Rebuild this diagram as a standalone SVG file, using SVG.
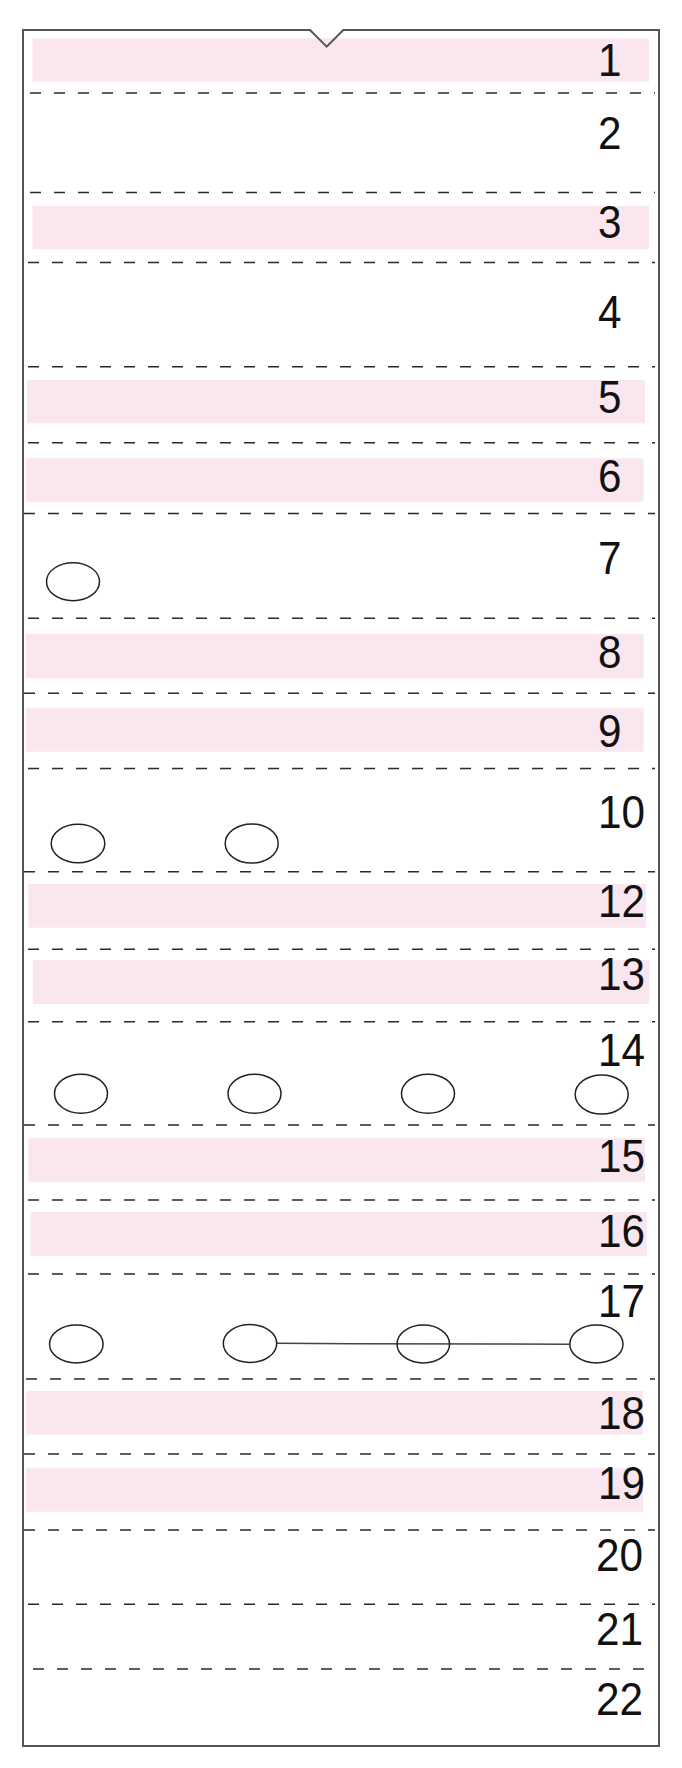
<svg xmlns="http://www.w3.org/2000/svg" width="682" height="1768" viewBox="0 0 682 1768">
<style>
.band{fill:#fae6ee}
.dash{stroke:#2a2a2a;stroke-width:1.5;stroke-dasharray:11 13;fill:none}
.num{font-family:"Liberation Sans",Arial,sans-serif;font-size:46px;fill:#111}
.node{fill:none;stroke:#222;stroke-width:1.5}
.frame{fill:none;stroke:#555;stroke-width:2}
</style>
<rect x="0" y="0" width="682" height="1768" fill="#fff"/>
<g id="bands">
<rect class="band" x="32.4" y="38.3" width="616.6" height="43.4"/>
<rect class="band" x="32.4" y="206" width="616.6" height="43.3"/>
<rect class="band" x="27" y="380" width="618" height="43.3"/>
<rect class="band" x="26" y="458.3" width="617.6" height="43.4"/>
<rect class="band" x="26" y="634" width="617.6" height="44.3"/>
<rect class="band" x="26" y="708.3" width="617.6" height="43.4"/>
<rect class="band" x="28.4" y="884" width="617.6" height="43.7"/>
<rect class="band" x="32.8" y="960" width="616.5" height="44"/>
<rect class="band" x="28.4" y="1138.3" width="616.6" height="43.4"/>
<rect class="band" x="30.6" y="1212" width="616.4" height="44"/>
<rect class="band" x="26" y="1391" width="617" height="43.5"/>
<rect class="band" x="26" y="1468.3" width="617" height="43.4"/>
</g>
<g id="frame">
<path class="frame" d="M23,30 H310 L326.7,46.7 L343.3,30 H659 V1746 H23 Z"/>
</g>
<g id="dividers">
<line class="dash" x1="30" y1="93" x2="655" y2="93"/>
<line class="dash" x1="30" y1="192.5" x2="655" y2="192.5"/>
<line class="dash" x1="28" y1="262.5" x2="655" y2="262.5"/>
<line class="dash" x1="28" y1="366.7" x2="655" y2="366.7"/>
<line class="dash" x1="28" y1="442.7" x2="655" y2="442.7"/>
<line class="dash" x1="24" y1="513.5" x2="655" y2="513.5"/>
<line class="dash" x1="28" y1="618.3" x2="655" y2="618.3"/>
<line class="dash" x1="24" y1="693.3" x2="655" y2="693.3"/>
<line class="dash" x1="28" y1="768.5" x2="655" y2="768.5"/>
<line class="dash" x1="24" y1="871.7" x2="655" y2="871.7"/>
<line class="dash" x1="28" y1="949.3" x2="655" y2="949.3"/>
<line class="dash" x1="28" y1="1021.7" x2="655" y2="1021.7"/>
<line class="dash" x1="24" y1="1125" x2="655" y2="1125"/>
<line class="dash" x1="28" y1="1200" x2="655" y2="1200"/>
<line class="dash" x1="28" y1="1274" x2="655" y2="1274"/>
<line class="dash" x1="26" y1="1379" x2="655" y2="1379"/>
<line class="dash" x1="24" y1="1454" x2="655" y2="1454"/>
<line class="dash" x1="24" y1="1530" x2="655" y2="1530"/>
<line class="dash" x1="28" y1="1604.3" x2="655" y2="1604.3"/>
<line class="dash" x1="33" y1="1669" x2="655" y2="1669"/>
</g>
<g id="labels">
<text class="num" x="598" y="76" textLength="23.5" lengthAdjust="spacingAndGlyphs">1</text>
<text class="num" x="598" y="149.3" textLength="23.5" lengthAdjust="spacingAndGlyphs">2</text>
<text class="num" x="598" y="238.3" textLength="23.5" lengthAdjust="spacingAndGlyphs">3</text>
<text class="num" x="598" y="328.3" textLength="23.5" lengthAdjust="spacingAndGlyphs">4</text>
<text class="num" x="598" y="413.3" textLength="23.5" lengthAdjust="spacingAndGlyphs">5</text>
<text class="num" x="598" y="491.7" textLength="23.5" lengthAdjust="spacingAndGlyphs">6</text>
<text class="num" x="598" y="574" textLength="23.5" lengthAdjust="spacingAndGlyphs">7</text>
<text class="num" x="598" y="668.3" textLength="23.5" lengthAdjust="spacingAndGlyphs">8</text>
<text class="num" x="598" y="747.3" textLength="23.5" lengthAdjust="spacingAndGlyphs">9</text>
<text class="num" x="598" y="828.3" textLength="47" lengthAdjust="spacingAndGlyphs">10</text>
<text class="num" x="598" y="916.7" textLength="47" lengthAdjust="spacingAndGlyphs">12</text>
<text class="num" x="598" y="990" textLength="47" lengthAdjust="spacingAndGlyphs">13</text>
<text class="num" x="598" y="1066" textLength="47" lengthAdjust="spacingAndGlyphs">14</text>
<text class="num" x="598" y="1171.7" textLength="47" lengthAdjust="spacingAndGlyphs">15</text>
<text class="num" x="598" y="1246.7" textLength="47" lengthAdjust="spacingAndGlyphs">16</text>
<text class="num" x="598" y="1316.7" textLength="47" lengthAdjust="spacingAndGlyphs">17</text>
<text class="num" x="598" y="1429" textLength="47" lengthAdjust="spacingAndGlyphs">18</text>
<text class="num" x="598" y="1499.3" textLength="47" lengthAdjust="spacingAndGlyphs">19</text>
<text class="num" x="596" y="1570.7" textLength="47" lengthAdjust="spacingAndGlyphs">20</text>
<text class="num" x="596" y="1645" textLength="47" lengthAdjust="spacingAndGlyphs">21</text>
<text class="num" x="596" y="1715" textLength="47" lengthAdjust="spacingAndGlyphs">22</text>
</g>
<g id="connectors">
<polyline fill="none" stroke="#444" stroke-width="1.5" points="276.8,1343.3 353,1343.8 498,1343.9 569.7,1344.3"/>
</g>
<g id="n7a"><ellipse class="node" cx="73" cy="581.7" rx="26.5" ry="19"/></g>
<g id="n10a"><ellipse class="node" cx="78" cy="843.5" rx="26.8" ry="19.2"/></g>
<g id="n10b"><ellipse class="node" cx="251.7" cy="843.5" rx="26.5" ry="19.5"/></g>
<g id="n14a"><ellipse class="node" cx="81" cy="1093.7" rx="26.5" ry="19.5"/></g>
<g id="n14b"><ellipse class="node" cx="254.5" cy="1093.7" rx="26.5" ry="19.5"/></g>
<g id="n14c"><ellipse class="node" cx="428" cy="1093.7" rx="26.5" ry="19.5"/></g>
<g id="n14d"><ellipse class="node" cx="601.7" cy="1094.5" rx="26.5" ry="19.5"/></g>
<g id="n17a"><ellipse class="node" cx="76.3" cy="1344" rx="26.8" ry="19"/></g>
<g id="n17b"><ellipse class="node" cx="250" cy="1343.5" rx="26.7" ry="19"/></g>
<g id="n17c"><ellipse class="node" cx="423.3" cy="1344" rx="26.3" ry="19"/></g>
<g id="n17d"><ellipse class="node" cx="596.4" cy="1344" rx="26.6" ry="19"/></g>
</svg>
